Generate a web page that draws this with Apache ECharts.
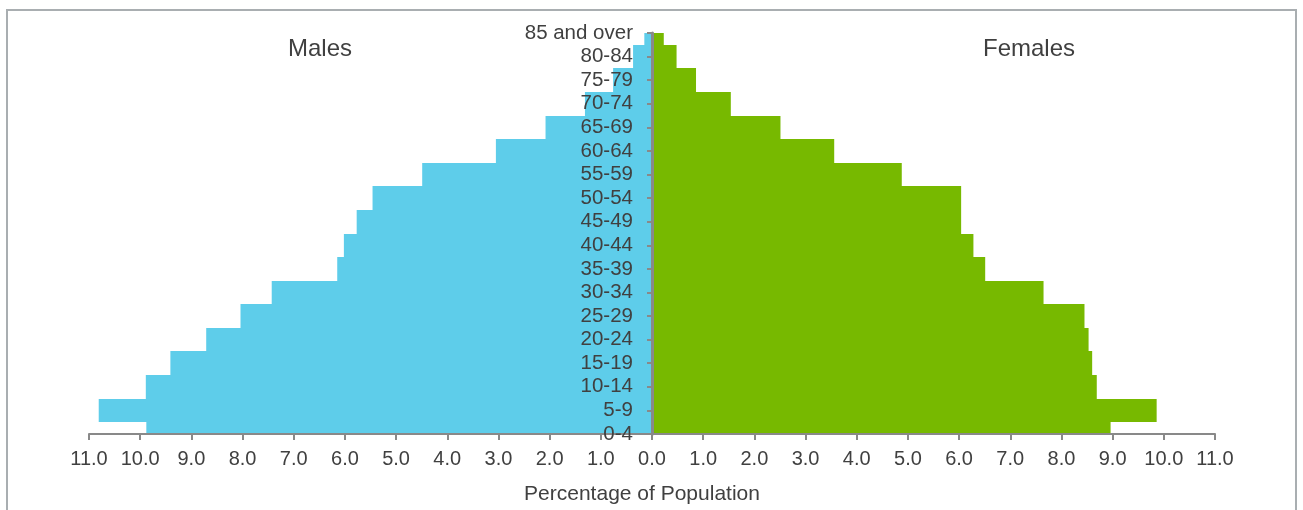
<!DOCTYPE html>
<html>
<head>
<meta charset="utf-8">
<script src="https://cdn.jsdelivr.net/npm/echarts@6/dist/echarts.min.js"></script>
<style>
html,body{margin:0;padding:0;background:#fff;}
#chart{width:1303px;height:510px;}
</style>
</head>
<body>
<div id="chart"></div>
<script>
const ageGroups = ['0-4','5-9','10-14','15-19','20-24','25-29','30-34','35-39','40-44','45-49','50-54','55-59','60-64','65-69','70-74','75-79','80-84','85 and over'];
const malesPct = [9.88, 10.81, 9.89, 9.41, 8.71, 8.04, 7.43, 6.15, 6.02, 5.77, 5.46, 4.49, 3.05, 2.08, 1.31, 0.76, 0.37, 0.15];
const femalesPct = [8.96, 9.86, 8.69, 8.60, 8.53, 8.45, 7.65, 6.51, 6.28, 6.04, 6.04, 4.88, 3.56, 2.51, 1.54, 0.86, 0.48, 0.23];
const xTicksMin = -11, xTicksMax = 11, xTickStep = 1;
const titles = ['Males', 'Females'];
const axisTitle = 'Percentage of Population';

const font = '"Liberation Sans", Arial, sans-serif';
const txt = '#404040';
const axisCol = '#898989';
const gridLeft = 89, gridRight = 88;
const plotW = 1303 - gridLeft - gridRight;
const zeroOffset = -plotW * (0 - xTicksMin) / (xTicksMax - xTicksMin);

function snap(v) { return Math.round(Math.round(v * 100) / 100); }

function barItem(color) {
  return function (params, api) {
    const cat = api.value(1);
    const val = api.value(0);
    const p0 = api.coord([0, cat]);
    const p1 = api.coord([val, cat]);
    const h = api.size([0, 1])[1];
    const y0 = snap(p0[1] - h / 2), y1 = snap(p0[1] + h / 2);
    const rect = {x: Math.min(p0[0], p1[0]), y: y0,
                  width: Math.abs(p1[0] - p0[0]), height: y1 - y0};
    const cs = params.coordSys;
    const clipped = echarts.graphic.clipRectByRect(rect,
      {x: cs.x, y: cs.y, width: cs.width, height: cs.height});
    if (!clipped) return null;
    return {type: 'rect', shape: clipped, style: {fill: color}};
  };
}

const chart = echarts.init(document.getElementById('chart'), null, {renderer: 'canvas'});
chart.setOption({
  animation: false,
  backgroundColor: '#fff',
  textStyle: {fontFamily: font},
  graphic: [{
    type: 'rect', silent: true,
    shape: {x: 7, y: 10, width: 1289, height: 520},
    style: {fill: 'none', stroke: '#a9aeb1', lineWidth: 2}
  }],
  title: [
    {text: titles[0], left: 315, top: 32, textAlign: 'center',
     textStyle: {fontFamily: font, fontSize: 24, fontWeight: 'normal', color: txt}},
    {text: titles[1], left: 1024, top: 32, textAlign: 'center',
     textStyle: {fontFamily: font, fontSize: 24, fontWeight: 'normal', color: txt}}
  ],
  grid: {left: gridLeft, right: gridRight, top: 33, bottom: 76, containLabel: false, outerBoundsMode: 'none'},
  xAxis: {
    type: 'value', min: xTicksMin, max: xTicksMax, interval: xTickStep, z: 5,
    name: axisTitle, nameLocation: 'middle', nameGap: 50,
    nameTextStyle: {fontFamily: font, fontSize: 21, color: txt, padding: [0, 20, 0, 0]},
    axisLine: {show: true, onZero: false, lineStyle: {color: axisCol, width: 2}},
    axisTick: {show: true, length: 6, lineStyle: {color: axisCol, width: 2}},
    axisLabel: {fontFamily: font, fontSize: 20, color: txt, margin: 15,
      formatter: v => Math.abs(v).toFixed(1)},
    splitLine: {show: false}
  },
  yAxis: {
    type: 'category', data: ageGroups, boundaryGap: false, z: 5,
    position: 'left', offset: zeroOffset,
    axisLine: {show: true, onZero: false, lineStyle: {color: axisCol, width: 3}},
    axisTick: {show: true, length: 5, lineStyle: {color: axisCol, width: 2}},
    axisLabel: {fontFamily: font, fontSize: 20.5, color: txt, margin: 19, interval: 0},
    splitLine: {show: false}
  },
  series: [
    {name: titles[0], type: 'custom', renderItem: barItem('#5ecdea'),
     encode: {x: 0, y: 1},
     data: malesPct.map((v, i) => [-v, i])},
    {name: titles[1], type: 'custom', renderItem: barItem('#77b900'),
     encode: {x: 0, y: 1},
     data: femalesPct.map((v, i) => [v, i])}
  ]
});
</script>
</body>
</html>
